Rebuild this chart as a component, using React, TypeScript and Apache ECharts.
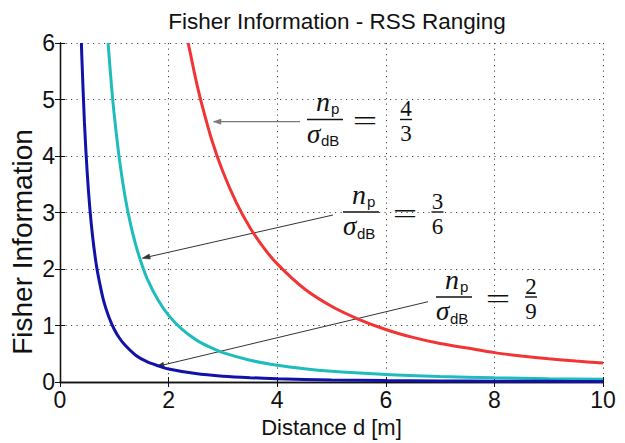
import React, { useEffect, useRef } from "react";
import * as echarts from "echarts";

const titleText = "Fisher Information - RSS Ranging";
const xName = "Distance d [m]";
const yName = "Fisher Information";
const xMin = 0, xMax = 10, xStep = 2;
const yMin = 0, yMax = 6, yStep = 1;

// np/sigma = 4/3 (red)
const redD = [2.36, 2.4, 2.5, 2.6, 2.8, 3.0, 3.25, 3.5, 3.75, 4, 4.5, 5, 5.5, 6, 6.5, 7, 7.5, 8, 8.5, 9, 9.5, 10];
const redF = [6.0, 5.82, 5.36, 4.96, 4.27, 3.72, 3.17, 2.73, 2.38, 2.09, 1.65, 1.34, 1.11, 0.93, 0.79, 0.68, 0.6, 0.52, 0.46, 0.41, 0.37, 0.335];
// np/sigma = 3/6 (cyan)
const cyanD = [0.886, 0.9, 0.95, 1.0, 1.1, 1.2, 1.3, 1.4, 1.5, 1.6, 1.8, 2.0, 2.25, 2.5, 2.75, 3.0, 3.5, 4, 4.5, 5, 6, 7, 8, 9, 10];
const cyanF = [6.0, 5.82, 5.22, 4.72, 3.9, 3.27, 2.79, 2.41, 2.1, 1.84, 1.46, 1.18, 0.93, 0.75, 0.62, 0.52, 0.385, 0.295, 0.233, 0.189, 0.131, 0.096, 0.074, 0.058, 0.047];
// np/sigma = 2/9 (blue)
const blueD = [0.394, 0.4, 0.45, 0.5, 0.55, 0.6, 0.65, 0.7, 0.8, 0.9, 1.0, 1.1, 1.2, 1.4, 1.6, 1.8, 2.0, 2.5, 3, 3.5, 4, 5, 6, 7, 8, 9, 10];
const blueF = [6.0, 5.81, 4.59, 3.72, 3.07, 2.58, 2.2, 1.9, 1.45, 1.15, 0.93, 0.77, 0.65, 0.47, 0.36, 0.29, 0.23, 0.149, 0.103, 0.076, 0.058, 0.037, 0.026, 0.019, 0.0145, 0.0115, 0.0093];

const ratioNum = ["4", "3", "2"];
const ratioDen = ["3", "6", "9"];

const zip = (a: number[], b: number[]) => a.map((v, i) => [v, b[i]]);

const SERIF = '"Liberation Serif"';
const SANS = '"Liberation Sans"';

function arrow(x1: number, y1: number, x2: number, y2: number, color: string, w: number) {
  const dx = x2 - x1, dy = y2 - y1;
  const L = Math.sqrt(dx * dx + dy * dy);
  const ux = dx / L, uy = dy / L;
  const hl = 8, hw = 2.6;
  const bx = x2 - ux * hl, by = y2 - uy * hl;
  return [
    { type: "line", shape: { x1, y1, x2: bx, y2: by }, style: { stroke: color, lineWidth: w }, silent: true },
    {
      type: "polygon",
      shape: { points: [[x2, y2], [bx - uy * hw, by + ux * hw], [bx + uy * hw, by - ux * hw]] },
      style: { fill: color, stroke: color, lineWidth: 0.5 },
      silent: true,
    },
  ];
}

function fraction(barX: number, B: number, eqX: number, digX: number, num: string, den: string) {
  const t = (x: number, y: number, text: string, font: string, align = "left", sx = 1) => ({
    type: "text",
    x,
    y,
    scaleX: sx,
    silent: true,
    style: { text, font, fill: "#111", align, verticalAlign: "middle" },
  });
  return [
    t(barX + 9, B - 18, "n", `italic 28px ${SERIF}`),
    t(barX + 24, B - 11, "p", `15px ${SANS}`),
    { type: "rect", shape: { x: barX, y: B - 0.7, width: 36, height: 1.4 }, style: { fill: "#111" }, silent: true },
    t(barX + 0, B + 14, "σ", `italic 27px ${SERIF}`),
    t(barX + 14, B + 21, "dB", `15px ${SANS}`),
    t(eqX, B + 1, "=", `28px ${SERIF}`, "center", 1.55),
    t(digX, B - 11, num, `23px ${SERIF}`, "center"),
    { type: "rect", shape: { x: digX - 6, y: B - 0.7, width: 12, height: 1.4 }, style: { fill: "#111" }, silent: true },
    t(digX, B + 14, den, `23px ${SERIF}`, "center"),
  ];
}

export default function App() {
  const ref = useRef<HTMLDivElement>(null);
  useEffect(() => {
    document.body.style.margin = "0";
    if (!ref.current) return;
    const chart = echarts.init(ref.current, undefined, { renderer: "svg" });
    const axisLine = { show: true, lineStyle: { color: "#111", width: 1.3 } };
    const tick = { show: true, inside: true, length: 5, lineStyle: { color: "#111", width: 1 } };
    const grid = { show: true, lineStyle: { color: "#444", width: 1, type: [1.2, 4.3] } };
    const graphics: any[] = [
      {
        type: "text", x: 22, y: 242, rotation: Math.PI / 2, silent: true,
        style: { text: yName, font: `28px ${SANS}`, fill: "#111", align: "center", verticalAlign: "middle" },
      },
      ...arrow(300, 121.7, 213, 121.7, "#7a7a7a", 1.3),
      ...arrow(333, 215, 142, 258.3, "#333", 1),
      ...arrow(428, 301.7, 156, 366.7, "#333", 1),
      ...fraction(307, 119.5, 365, 406, ratioNum[0], ratioDen[0]),
      ...fraction(343, 212, 405, 437.5, ratioNum[1], ratioDen[1]),
      ...fraction(436, 297, 498, 531, ratioNum[2], ratioDen[2]),
    ];
    const lineSeries = (d: number[], f: number[], color: string) => ({
      type: "line", data: zip(d, f), showSymbol: false, smooth: 0.3,
      lineStyle: { color, width: 3 }, z: 3,
    });
    chart.setOption({
      animation: false,
      backgroundColor: "#fff",
      title: {
        text: titleText,
        left: 332,
        textAlign: "center",
        top: 5,
        textStyle: { fontFamily: SANS, fontSize: 22.5, fontWeight: "normal", color: "#111" },
      },
      grid: { left: 60, right: 22, top: 43, bottom: 54 },
      xAxis: [
        {
          type: "value", min: xMin, max: xMax, interval: xStep,
          name: xName, nameLocation: "middle", nameGap: 34,
          nameTextStyle: { fontFamily: SANS, fontSize: 22, color: "#111" },
          axisLine, axisTick: tick, splitLine: grid,
          axisLabel: { fontFamily: SANS, fontSize: 23, color: "#111", margin: 6 },
        },
        {
          type: "value", position: "top", min: xMin, max: xMax, interval: xStep,
          axisLine, axisTick: tick, splitLine: { show: false }, axisLabel: { show: false },
        },
      ],
      yAxis: [
        {
          type: "value", min: yMin, max: yMax, interval: yStep,
          axisLine, axisTick: tick, splitLine: grid,
          axisLabel: { fontFamily: SANS, fontSize: 23, color: "#111", margin: 5 },
        },
        {
          type: "value", position: "right", min: yMin, max: yMax, interval: yStep,
          axisLine, axisTick: tick, splitLine: { show: false }, axisLabel: { show: false },
        },
      ],
      series: [
        lineSeries(redD, redF, "#f23434"),
        lineSeries(cyanD, cyanF, "#1fbcbc"),
        lineSeries(blueD, blueF, "#1212a8"),
      ],
      graphic: graphics,
    });
    return () => chart.dispose();
  }, []);
  return <div ref={ref} style={{ width: 625, height: 443 }} />;
}
